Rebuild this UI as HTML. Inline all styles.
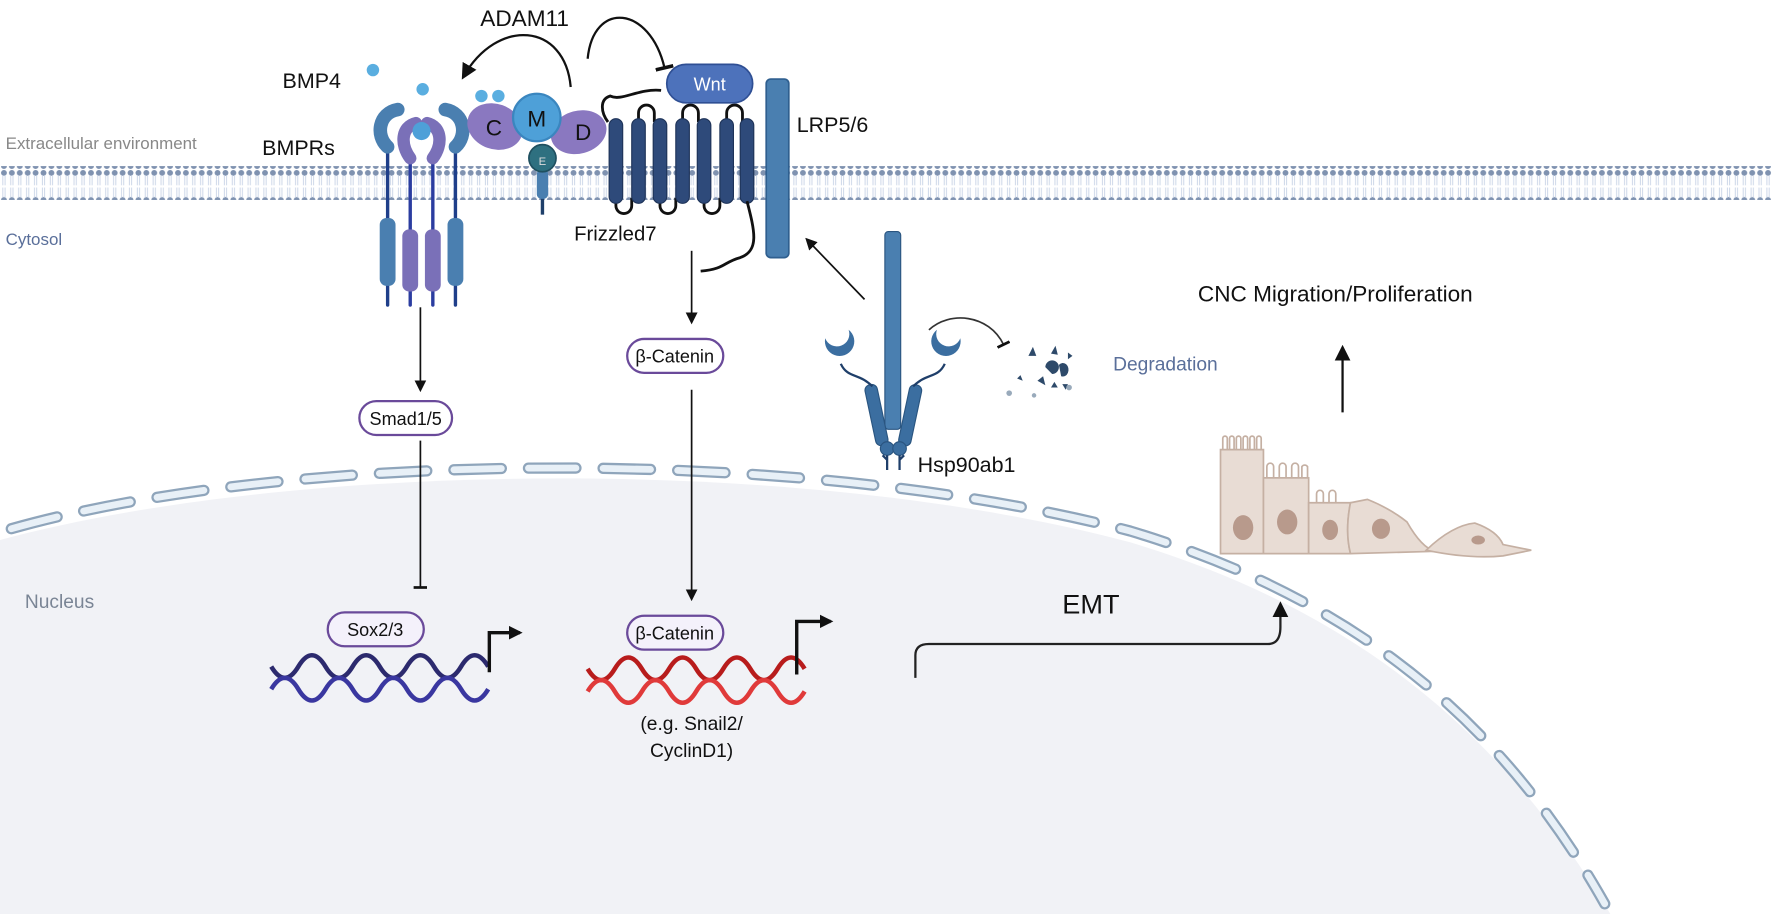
<!DOCTYPE html>
<html><head><meta charset="utf-8"><style>
html,body{margin:0;padding:0;background:#fff;}
svg{display:block;}
text{font-family:"Liberation Sans",sans-serif;}
</style></head><body>
<svg width="1772" height="914" viewBox="0 0 1568 809" preserveAspectRatio="none" xmlns="http://www.w3.org/2000/svg">
<defs>
<marker id="ah" viewBox="0 0 10 10" refX="8" refY="5" markerWidth="7" markerHeight="7" orient="auto"><path d="M0,0L10,5L0,10z" fill="#111"/></marker>
<marker id="ahb" viewBox="0 0 10 10" refX="8" refY="5" markerWidth="4" markerHeight="4" orient="auto"><path d="M0,0L10,5L0,10z" fill="#111"/></marker>
<marker id="tb" viewBox="0 0 10 10" refX="5" refY="5" markerWidth="8" markerHeight="8" orient="auto"><path d="M5,0L5,10" stroke="#111" stroke-width="2"/></marker>
<pattern id="lip" width="7" height="30" patternUnits="userSpaceOnUse">
<circle cx="3.5" cy="3" r="2.6" fill="#7f92b0"/><circle cx="3.5" cy="27" r="2.6" fill="#7f92b0"/>
<path d="M2.5,5 L2.5,14 M4.5,5 L4.5,14 M2.5,16 L2.5,25 M4.5,16 L4.5,25" stroke="#c8d3e6" stroke-width="0.8"/>
</pattern>
</defs>
<rect width="1568" height="809" fill="#fff"/>
<!-- nucleus -->
<path d="M0,478 C250,410 700,400 1000,480 C1200,540 1330,650 1425,809 L0,809 Z" fill="#f1f2f6"/>
<path d="M10,468 C250,400 700,392 1000,470 C1200,530 1330,640 1420,800" fill="none" stroke="#8fa5bb" stroke-width="10" stroke-dasharray="42 24" stroke-linecap="round"/>
<path d="M10,468 C250,400 700,392 1000,470 C1200,530 1330,640 1420,800" fill="none" stroke="#e8f0f7" stroke-width="6" stroke-dasharray="42 24" stroke-linecap="round"/>
<!-- membrane -->
<rect x="0" y="147" width="1568" height="30" fill="url(#lip)"/>
<text x="5" y="132" font-size="15" fill="#888">Extracellular environment</text>
<text x="5" y="217" font-size="15" fill="#5a6f9a">Cytosol</text>
<text x="22" y="538" font-size="17" fill="#7a8595">Nucleus</text>
<!-- BMPRs -->
<g stroke-linecap="round">
<line x1="343" y1="125" x2="343" y2="270" stroke="#1f3f8a" stroke-width="3"/>
<line x1="363" y1="135" x2="363" y2="270" stroke="#2b3da0" stroke-width="3"/>
<line x1="383" y1="135" x2="383" y2="270" stroke="#2b3da0" stroke-width="3"/>
<line x1="403" y1="125" x2="403" y2="270" stroke="#1f3f8a" stroke-width="3"/>
<rect x="336" y="193" width="14" height="60" rx="6" fill="#4a7fb0"/>
<rect x="356" y="203" width="14" height="55" rx="6" fill="#7a70b8"/>
<rect x="376" y="203" width="14" height="55" rx="6" fill="#7a70b8"/>
<rect x="396" y="193" width="14" height="60" rx="6" fill="#4a7fb0"/>
<path d="M352,97 C335,100 332,120 343,130" fill="none" stroke="#4a7fb0" stroke-width="12"/>
<path d="M394,97 C411,100 414,120 403,130" fill="none" stroke="#4a7fb0" stroke-width="12"/>
<path d="M368,109 C355,112 354,128 363,140" fill="none" stroke="#7a70b8" stroke-width="11"/>
<path d="M378,109 C391,112 392,128 383,140" fill="none" stroke="#7a70b8" stroke-width="11"/>
</g>
<circle cx="373" cy="116" r="8" fill="#4ea0d8"/>
<circle cx="330" cy="62" r="5.5" fill="#5aaee0"/>
<circle cx="374" cy="79" r="5.5" fill="#5aaee0"/>
<circle cx="426" cy="85" r="5.5" fill="#5aaee0"/>
<circle cx="441" cy="85" r="5.5" fill="#5aaee0"/>
<text x="250" y="78" font-size="19" fill="#111">BMP4</text>
<text x="232" y="137" font-size="19" fill="#111">BMPRs</text>
<!-- ADAM11 complex -->
<line x1="480" y1="150" x2="480" y2="190" stroke="#1f3f6a" stroke-width="3"/>
<rect x="475" y="150" width="10" height="26" rx="4" fill="#4a7fb0"/>
<ellipse cx="438" cy="112" rx="25" ry="20" fill="#8a78c0" transform="rotate(20 438 112)"/>
<ellipse cx="512" cy="117" rx="25" ry="19" fill="#8a78c0" transform="rotate(-15 512 117)"/>
<circle cx="475" cy="104" r="21" fill="#4ea0d8" stroke="#3a86bf" stroke-width="2"/>
<circle cx="480" cy="140" r="12" fill="#2e7080" stroke="#1f5060" stroke-width="1.5"/>
<text x="475" y="112" font-size="20" text-anchor="middle" fill="#111">M</text>
<text x="437" y="120" font-size="20" text-anchor="middle" fill="#111">C</text>
<text x="516" y="124" font-size="20" text-anchor="middle" fill="#111">D</text>
<text x="480" y="146" font-size="10" text-anchor="middle" fill="#ddd">E</text>
<text x="425" y="23" font-size="20" fill="#111">ADAM11</text>
<path d="M505,77 C500,20 440,15 410,68" fill="none" stroke="#111" stroke-width="2" marker-end="url(#ah)"/>
<path d="M520,52 C525,0 575,5 588,60" fill="none" stroke="#111" stroke-width="2" marker-end="url(#tb)"/>
<!-- Frizzled -->
<path d="M585,80 C565,78 550,90 540,85 C530,88 532,100 538,108" fill="none" stroke="#111" stroke-width="2.5"/>
<g fill="none" stroke="#111" stroke-width="2.5">
<path d="M545,175 L545,182 A7,7 0 0,0 559,182 L559,175"/>
<path d="M584,175 L584,182 A7,7 0 0,0 598,182 L598,175"/>
<path d="M623,175 L623,182 A7,7 0 0,0 637,182 L637,175"/>
<path d="M565,108 L565,100 A7,7 0 0,1 579,100 L579,108"/>
<path d="M604,108 L604,100 A7,7 0 0,1 618,100 L618,108"/>
<path d="M643,108 L643,100 A7,7 0 0,1 657,100 L657,108"/>
</g>
<g fill="#2e4a7a" stroke="#1e3358" stroke-width="1">
<rect x="539" y="105" width="12" height="75" rx="6"/>
<rect x="559" y="105" width="12" height="75" rx="6"/>
<rect x="578" y="105" width="12" height="75" rx="6"/>
<rect x="598" y="105" width="12" height="75" rx="6"/>
<rect x="617" y="105" width="12" height="75" rx="6"/>
<rect x="637" y="105" width="12" height="75" rx="6"/>
<rect x="655" y="105" width="12" height="75" rx="6"/>
</g>
<path d="M661,178 C668,205 672,222 655,228 C640,232 642,238 620,240" fill="none" stroke="#111" stroke-width="2.5"/>
<rect x="590" y="57" width="76" height="34" rx="17" fill="#4d72bb" stroke="#2f4f94" stroke-width="1.5"/>
<text x="628" y="80" font-size="16" text-anchor="middle" fill="#fff">Wnt</text>
<rect x="678" y="70" width="20" height="158" rx="4" fill="#4a7fb0" stroke="#2f5f8f" stroke-width="1.5"/>
<text x="705" y="117" font-size="19" fill="#111">LRP5/6</text>
<text x="508" y="213" font-size="18" fill="#111">Frizzled7</text>
<!-- Wnt path arrows -->
<line x1="612" y1="222" x2="612" y2="285" stroke="#111" stroke-width="1.5" marker-end="url(#ah)"/>
<rect x="555" y="300" width="85" height="30" rx="15" fill="#fff" stroke="#6a4a9a" stroke-width="2"/>
<text x="597" y="321" font-size="16" text-anchor="middle" fill="#111">β-Catenin</text>
<line x1="612" y1="345" x2="612" y2="530" stroke="#111" stroke-width="1.5" marker-end="url(#ah)"/>
<rect x="555" y="545" width="85" height="30" rx="15" fill="#f4f1fb" stroke="#6a4a9a" stroke-width="2"/>
<text x="597" y="566" font-size="16" text-anchor="middle" fill="#111">β-Catenin</text>
<!-- BMP path -->
<line x1="372" y1="272" x2="372" y2="345" stroke="#111" stroke-width="1.5" marker-end="url(#ah)"/>
<rect x="318" y="355" width="82" height="30" rx="15" fill="#fff" stroke="#6a4a9a" stroke-width="2"/>
<text x="359" y="376" font-size="16" text-anchor="middle" fill="#111">Smad1/5</text>
<line x1="372" y1="390" x2="372" y2="520" stroke="#111" stroke-width="1.5" marker-end="url(#tb)"/>
<rect x="290" y="542" width="85" height="30" rx="15" fill="#f4f1fb" stroke="#6a4a9a" stroke-width="2"/>
<text x="332" y="563" font-size="16" text-anchor="middle" fill="#111">Sox2/3</text>
<!-- DNA -->
<g fill="none" stroke-width="4">
<path d="M240,590 q12,20 24,0 t24,0 t24,0 t24,0 t24,0 t24,0 t24,0 t24,0" stroke="#2c2a6e"/>
<path d="M240,610 q12,-20 24,0 t24,0 t24,0 t24,0 t24,0 t24,0 t24,0 t24,0" stroke="#3a37a0"/>
<path d="M520,592 q12,20 24,0 t24,0 t24,0 t24,0 t24,0 t24,0 t24,0 t24,0" stroke="#b81c1c"/>
<path d="M520,612 q12,-20 24,0 t24,0 t24,0 t24,0 t24,0 t24,0 t24,0 t24,0" stroke="#e03a3a"/>
</g>
<path d="M433,595 L433,560 L460,560" fill="none" stroke="#111" stroke-width="3" marker-end="url(#ahb)"/>
<path d="M705,597 L705,550 L735,550" fill="none" stroke="#111" stroke-width="3" marker-end="url(#ahb)"/>
<text x="612" y="646" font-size="17" text-anchor="middle" fill="#111">(e.g. Snail2/</text>
<text x="612" y="670" font-size="17" text-anchor="middle" fill="#111">CyclinD1)</text>
<!-- Hsp90ab1 -->
<g fill="#3b6ea0" stroke="#2a5580" stroke-width="1">
<rect x="783" y="205" width="14" height="175" rx="3" fill="#4a7fb0"/>
<rect x="770" y="340" width="11" height="55" rx="5" transform="rotate(-12 775 367)"/>
<rect x="800" y="340" width="11" height="55" rx="5" transform="rotate(12 805 367)"/>
<circle cx="785" cy="397" r="6"/><circle cx="796" cy="397" r="6"/>
</g>
<path d="M785,403 L785,416 M796,403 L796,416 M781,403 l4,4 M800,403 l-4,4" stroke="#1f3f6a" stroke-width="2"/>
<path d="M772,342 C760,330 750,335 744,322" fill="none" stroke="#1f3f6a" stroke-width="2"/>
<path d="M808,342 C820,330 830,335 836,322" fill="none" stroke="#1f3f6a" stroke-width="2"/>
<path d="M733,295 a13,13 0 1,0 22,0 a8,8 0 1,1 -22,0z" fill="#3b6ea0" transform="rotate(-20 744 305)"/>
<path d="M825,295 a13,13 0 1,0 22,0 a8,8 0 1,1 -22,0z" fill="#3b6ea0" transform="rotate(20 836 305)"/>
<text x="812" y="418" font-size="19" fill="#111">Hsp90ab1</text>
<line x1="765" y1="265" x2="714" y2="212" stroke="#111" stroke-width="1.5" marker-end="url(#ah)"/>
<path d="M822,292 C840,275 875,278 888,305" fill="none" stroke="#333" stroke-width="1.5" marker-end="url(#tb)"/>
<g fill="#2e4a6a">
<path d="M910,315 l4,-8 l3,8z"/><path d="M930,313 l4,-7 l2,8z"/><path d="M925,325 a6,6 0 1,1 6,6z"/>
<path d="M937,323 a5,6 0 1,1 2,10z"/><path d="M918,337 l5,-4 l2,8z"/><path d="M930,343 l3,-5 l3,5z"/>
<path d="M945,312 l4,3 l-4,3z"/><path d="M900,335 l3,-3 l2,5z"/><path d="M940,340 l5,0 l-2,5z"/>
</g>
<circle cx="893" cy="348" r="2.5" fill="#9ab"/><circle cx="946" cy="343" r="2.5" fill="#9ab"/><circle cx="915" cy="350" r="2" fill="#9ab"/>
<text x="985" y="328" font-size="17" fill="#5a6f9a">Degradation</text>
<!-- CNC -->
<text x="1060" y="267" font-size="20" fill="#111">CNC Migration/Proliferation</text>
<line x1="1188" y1="365" x2="1188" y2="308" stroke="#111" stroke-width="2" marker-end="url(#ah)"/>
<!-- cells -->
<g fill="#e8dcd4" stroke="#c5b0a3" stroke-width="1.5">
<path d="M1080,398 L1080,490 L1118,490 L1118,398 Z"/>
<path d="M1118,423 L1118,490 L1158,490 L1158,423 Z"/>
<path d="M1158,445 L1158,490 L1195,490 Q1190,470 1195,445 Z"/>
<path d="M1195,445 L1210,442 Q1230,450 1245,462 Q1258,485 1270,488 L1195,490 Q1190,470 1195,445 Z"/>
<path d="M1262,487 Q1285,465 1305,463 Q1325,470 1330,482 L1355,487 L1330,492 Q1300,495 1262,487 Z"/>
</g>
<g fill="none" stroke="#c5b0a3" stroke-width="1.5">
<path d="M1082,398 v-10 a2,2 0 0,1 4,0 v10 M1088,398 v-10 a2,2 0 0,1 4,0 v10 M1094,398 v-10 a2,2 0 0,1 4,0 v10 M1100,398 v-10 a2,2 0 0,1 4,0 v10 M1106,398 v-10 a2,2 0 0,1 4,0 v10 M1112,398 v-10 a2,2 0 0,1 4,0 v10"/>
<path d="M1121,423 v-10 a3,3 0 0,1 6,0 v10 M1132,423 v-10 a3,3 0 0,1 6,0 v10 M1143,423 v-10 a3,3 0 0,1 6,0 v10 M1152,423 v-10 a3,3 0 0,1 5,0 v10"/>
<path d="M1165,445 v-8 a3,3 0 0,1 6,0 v8 M1176,445 v-8 a3,3 0 0,1 6,0 v8"/>
</g>
<g fill="#b89a8c">
<ellipse cx="1100" cy="467" rx="9" ry="11"/><ellipse cx="1139" cy="462" rx="9" ry="11"/>
<ellipse cx="1177" cy="469" rx="7" ry="9"/><ellipse cx="1222" cy="468" rx="8" ry="9"/><ellipse cx="1308" cy="478" rx="6" ry="4"/>
</g>
<!-- EMT -->
<text x="940" y="543" font-size="24" fill="#111">EMT</text>
<path d="M810,600 L810,580 Q810,570 822,570 L1122,570 Q1133,570 1133,555 L1133,535" fill="none" stroke="#222" stroke-width="2" marker-end="url(#ah)"/>
</svg>
</body></html>
